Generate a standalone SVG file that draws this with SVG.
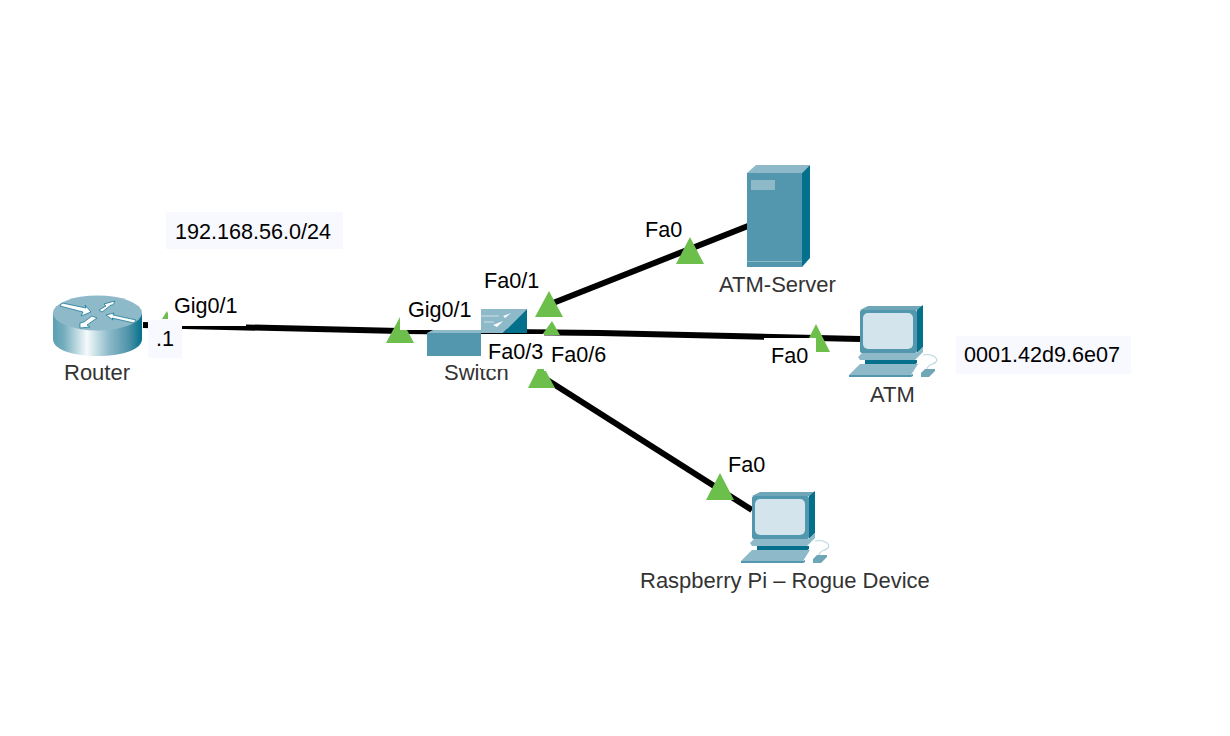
<svg xmlns="http://www.w3.org/2000/svg" width="1230" height="736" viewBox="0 0 1230 736">
<style>
text{font-family:"Liberation Sans",Arial,sans-serif;font-size:21.6px;fill:#000}
.n{fill:#333;font-size:22px}
.c{stroke:#000;stroke-width:6;fill:none}
.tri{fill:#6cbf4b}
.note{fill:#f8f8ff}
.w{fill:#fff}
.ar{fill:#fff;stroke:#04708c;stroke-width:.7}
</style>
<defs>
<linearGradient id="cyl" x1="0" x2="1" y1="0" y2="0">
<stop offset="0" stop-color="#5b9fb3"/><stop offset=".12" stop-color="#74adbd"/><stop offset=".38" stop-color="#f4fafb"/><stop offset=".62" stop-color="#8fbccb"/><stop offset=".85" stop-color="#4f93a8"/><stop offset="1" stop-color="#04708c"/>
</linearGradient>
<g id="pc">
<path d="M860 310L868 306H923L917 310Z" fill="#6fa6b8"/>
<path d="M917 310L923 305V347L917 353Z" fill="#04708c"/>
<rect x="860" y="310" width="57" height="43" rx="2" fill="#5297ad"/>
<rect x="863" y="313" width="50" height="36" rx="5" fill="#d3e4ec"/>
<path d="M862 353H917L923 347V352L915 360H860L858 357Z" fill="#8db9c9"/>
<path d="M865 360H917V363L914 365H865Z" fill="#04708c"/>
<path d="M860 364H918L911 375H849Z" fill="#8db9c9"/>
<path d="M849 375H911L913 374V376L911 377H849Z" fill="#5297ad"/>
<path d="M925 369H935V371L929 377H921V373Z" fill="#6fa6b8"/>
<path d="M923 355C932 353 939 358 936 362C933 365 928 364 927 369" fill="none" stroke="#bcd8e2" stroke-width="1.2"/>
</g>
</defs>
<rect width="1230" height="736" fill="#fff"/>
<g id="connectors">
<path class="c" d="M143 325L400 331"/>
<path class="c" d="M400 331L600 333L860 339"/>
<path class="c" d="M548 305L748 226"/>
<path class="c" d="M541 376L752 510"/>
</g>
<g id="router">
<path d="M53 314V339C53 349 70 356 98 356C124 356 142 349 142 339V314Z" fill="url(#cyl)"/>
<ellipse cx="97.500" cy="313" rx="44.500" ry="17.500" fill="#8db9c9"/>
<path class="ar" d="M60 306L62 303L86 308L85 305L91 312L81 316L83 312Z"/>
<path class="ar" d="M99 310L106 306L104 304L115 301L113 305L111 305L102 312Z"/>
<path class="ar" d="M106 315L114 313L113 315L136 320L134 323L112 318L113 320Z"/>
<path class="ar" d="M80 323L84 322L92 316L97 318L87 325L90 327L80 328Z"/>
<text class="n" x="64" y="380">Router</text>
</g>
<g id="switch">
<path d="M481 309H527L503 333H427L435 329H481Z" fill="#8db9c9"/>
<path d="M527 309V333H503Z" fill="#04708c"/>
<path d="M481 316H499M484 322H494" stroke="#cfe2e9" stroke-width="1.200" fill="none"/>
<path d="M503 316L511 313L505 318ZM493 325L503 321L497 327Z" fill="#fff"/>
<rect x="427" y="333" width="54" height="23" fill="#5297ad"/>
<text class="n" x="444" y="380">Switch</text>
</g>
<g id="atm-server">
<path d="M747 173L756 165H810L802 173Z" fill="#8db9c9"/>
<path d="M802 173L810 165V258L802 267Z" fill="#04708c"/>
<rect x="747" y="173" width="55" height="94" fill="#5297ad"/>
<rect x="751" y="180" width="24" height="10" fill="#8db9c9"/>
<rect x="747" y="261" width="55" height="1" fill="#8db9c9"/>
<text class="n" x="719" y="292">ATM-Server</text>
</g>
<g id="atm">
<use href="#pc"/>
<text class="n" x="870" y="402">ATM</text>
</g>
<g id="raspberry-pi">
<use href="#pc" transform="translate(-108 186)"/>
<text class="n" x="640" y="588">Raspberry Pi – Rogue Device</text>
</g>
<g id="link-lights">
<path class="tri" d="M162 319L167 311L170 319Z"/>
<path class="tri" d="M386 343L400 317L414 343Z"/>
<path class="tri" d="M535 317L549 291L563 317Z"/>
<path class="tri" d="M542 335L552 321L560 335Z"/>
<path class="tri" d="M528 388L541 362L555 388Z"/>
<path class="tri" d="M676 264L690 237L704 264Z"/>
<path class="tri" d="M802 352L816 324L830 352Z"/>
<path class="tri" d="M706 500L720 473L734 500Z"/>
</g>
<g id="labels">
<rect class="note" x="166" y="212" width="177" height="37"/>
<text x="175" y="239">192.168.56.0/24</text>
<rect class="note" x="956" y="336" width="175" height="38"/>
<text x="964" y="362">0001.42d9.6e07</text>
<rect class="w" x="168" y="292" width="78" height="34"/>
<text x="174" y="313">Gig0/1</text>
<rect class="note" x="148" y="320" width="34" height="38"/>
<text x="156" y="346">.1</text>
<rect class="w" x="400" y="294" width="81" height="36"/>
<text x="408" y="317">Gig0/1</text>
<rect class="w" x="480" y="266" width="64" height="32"/>
<text x="484" y="288">Fa0/1</text>
<rect class="w" x="481" y="334" width="63" height="35"/>
<text x="488" y="359">Fa0/3</text>
<rect class="w" x="544" y="337" width="68" height="34"/>
<text x="551" y="362">Fa0/6</text>
<text x="645" y="237">Fa0</text>
<rect class="w" x="764" y="338" width="52" height="34"/>
<text x="771" y="363">Fa0</text>
<text x="728" y="472">Fa0</text>
</g>
</svg>
